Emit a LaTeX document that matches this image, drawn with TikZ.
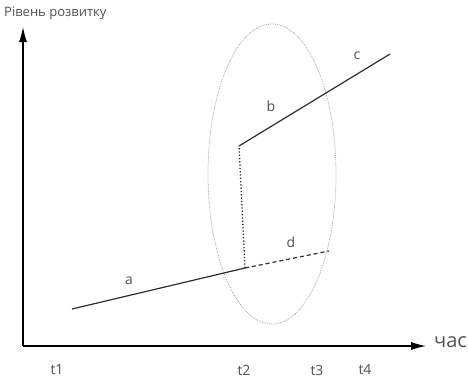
\documentclass[tikz,border=0pt]{standalone}
\usepackage{fontspec}
\setmainfont{Open Sans}
\usetikzlibrary{arrows.meta,shapes.geometric}
\definecolor{txt}{HTML}{505050}
\definecolor{ln}{HTML}{2E2E2E}
\begin{document}
\begin{tikzpicture}[x=1pt,y=-1pt,
  lbl/.style={text=txt,font=\fontsize{14}{16}\selectfont,inner sep=0pt},
  seg/.style={draw=ln,line width=1.2pt},
  axis/.style={draw=black,line width=1.1pt,-{Latex[length=15pt,width=8pt]}}]
\useasboundingbox (0,0) rectangle (468,380);
\coordinate (O) at (23,346);
\coordinate (Ytop) at (23,27);
\coordinate (Xend) at (426,346);
\draw[axis] (O) -- (Ytop);
\draw[axis] (O) -- (Xend);
\node[lbl,anchor=west,font=\fontsize{13}{15}\selectfont] (ylab) at (4,13) {Рівень розвитку};
\node[lbl,anchor=west,font=\fontsize{20}{22}\selectfont] (xlab) at (434,342) {час};
% ellipse
\node[draw=gray!70,densely dotted,line width=0.8pt,ellipse,minimum width=128pt,minimum height=300pt,inner sep=0pt] (ell) at (272,174) {};
\coordinate (A0) at (72,309);
\coordinate (A1) at (245,268);
\coordinate (B0) at (239,146);
\coordinate (B1) at (390,54);
\coordinate (D1) at (329,251);
\draw[seg] (A0) -- (A1);
\draw[draw=ln,line width=1.3pt,dotted] (A1) -- (B0);
\draw[seg] (B0) -- (B1);
\draw[draw=ln,line width=1.2pt,dash pattern=on 4pt off 3pt] (A1) -- (D1);
\node[lbl] (la) at (129,281) {a};
\node[lbl] (lb) at (271,106) {b};
\node[lbl] (lc) at (357,56) {c};
\node[lbl] (ld) at (291,242) {d};
\node[lbl] (t1) at (57,370) {t1};
\node[lbl] (t2) at (244,370) {t2};
\node[lbl] (t3) at (317,370) {t3};
\node[lbl] (t4) at (365,370) {t4};
\end{tikzpicture}
\end{document}
